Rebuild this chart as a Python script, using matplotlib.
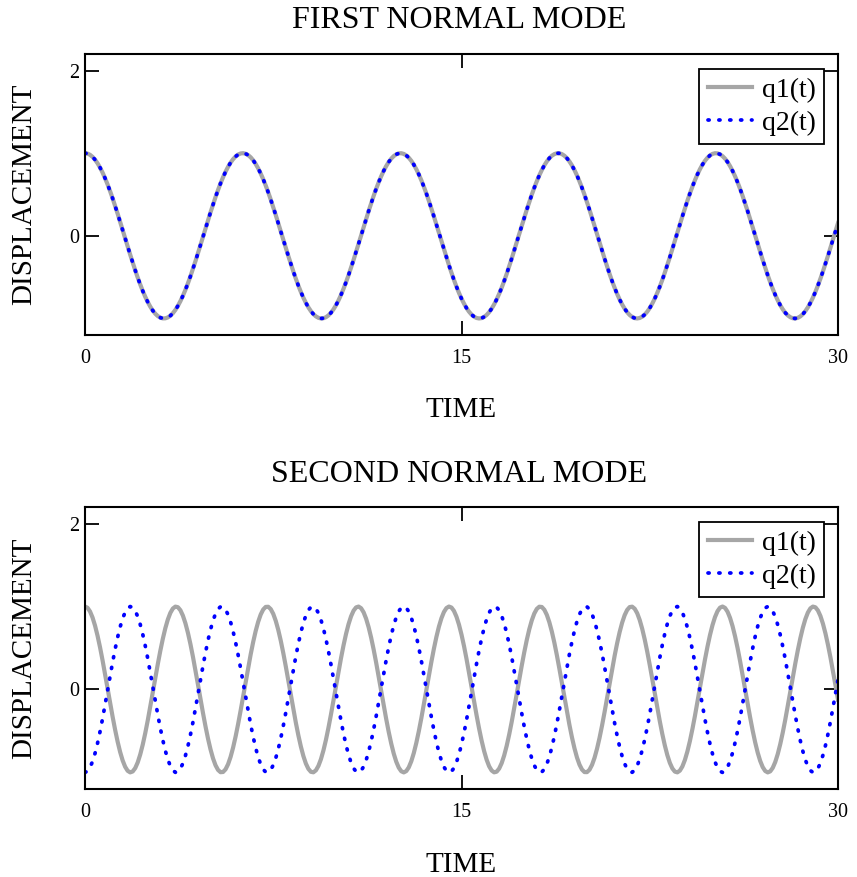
import numpy as np
import matplotlib
matplotlib.use('Agg')
import matplotlib.pyplot as plt

plt.rcParams['font.family'] = ['Liberation Serif', 'DejaVu Serif']

# values
t_range = [0, 30]
n_samples = 301
mode_freqs = [1.0, 1.732]          # rad per time unit, first and second mode
mode_shapes = [[1, 1], [1, -1]]    # q1, q2 amplitude for each mode
titles = ['FIRST NORMAL MODE', 'SECOND NORMAL MODE']
series_names = ['q1(t)', 'q2(t)']
x_ticks = [0, 15, 30]
y_ticks = [0, 2]
y_lim = [-1.2, 2.2]

W, H = 857, 877
fig = plt.figure(figsize=(W / 100, H / 100), dpi=100)

# axes boxes in pixels: left, top, right, bottom
boxes = [(85, 54, 838, 335), (85, 507, 838, 789)]
title_y = [20, 475]
xlabel_y = [410, 865]

t = np.linspace(t_range[0], t_range[1], n_samples)

for i in range(2):
    l, top, r, b = boxes[i]
    ax = fig.add_axes([l / W, (H - b) / H, (r - l) / W, (b - top) / H])
    w = mode_freqs[i]
    q1 = mode_shapes[i][0] * np.cos(w * t)
    q2 = mode_shapes[i][1] * np.cos(w * t)
    ax.plot(t, q1, color='#a6a6a6', lw=3.0, label=series_names[0])
    ax.plot(t, q2, color='#0000ff', lw=2.7, linestyle=(0, (0.3, 2.6)),
            dash_capstyle='round', label=series_names[1])

    ax.set_xlim(t_range)
    ax.set_ylim(y_lim)
    ax.set_xticks(x_ticks)
    ax.set_yticks(y_ticks)
    ax.tick_params(direction='in', length=10, width=1.3, top=True, right=True,
                   labelsize=14.5, colors='black')
    ax.tick_params(axis='x', pad=10)
    ax.tick_params(axis='y', pad=4)
    for sp in ax.spines.values():
        sp.set_linewidth(1.5)

    leg_x = (824 - l) / (r - l)
    leg_y = (b - (top + 15)) / (b - top)
    leg = ax.legend(loc='upper right', bbox_to_anchor=(leg_x, leg_y),
                    borderaxespad=0, fontsize=20, fancybox=False,
                    edgecolor='black', framealpha=1, handlelength=1.6,
                    handletextpad=0.35, borderpad=0.3, labelspacing=0.28)
    leg.get_frame().set_linewidth(1.3)

    fig.text(459 / W, 1 - title_y[i] / H, titles[i], fontsize=23,
             ha='center', va='center')
    fig.text((l + r) / 2 / W, 1 - xlabel_y[i] / H, 'TIME', fontsize=21,
             ha='center', va='center')
    fig.text(24 / W, 1 - (top + b) / 2 / H, 'DISPLACEMENT', fontsize=21,
             ha='center', va='center', rotation=90)

fig.savefig('out.png', dpi=100)
